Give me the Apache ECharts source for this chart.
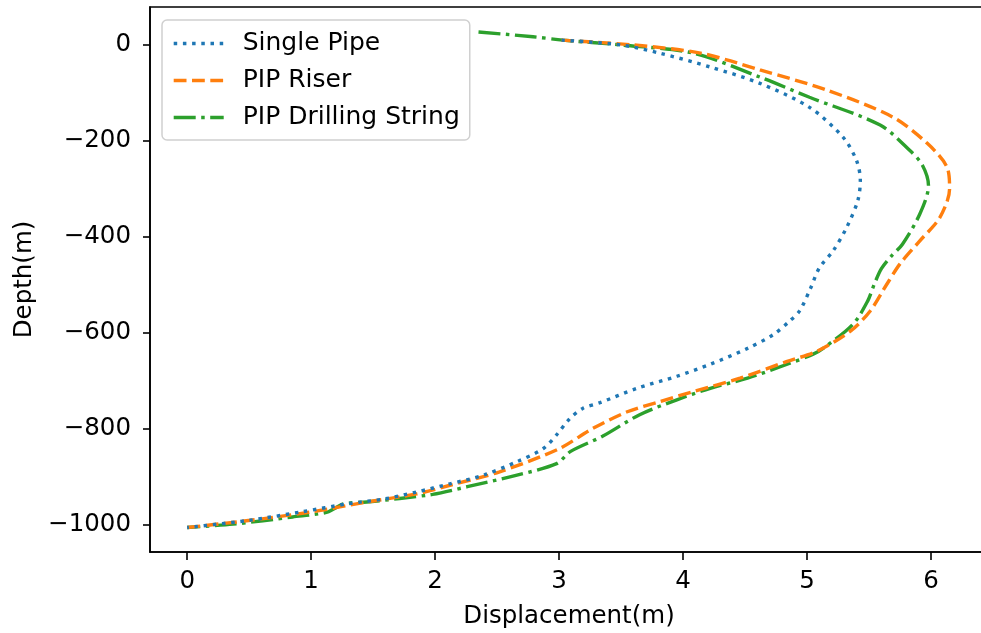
<!DOCTYPE html>
<html>
<head>
<meta charset="utf-8">
<script src="https://cdn.jsdelivr.net/npm/echarts@6/dist/echarts.min.js"></script>
<style>
html,body{margin:0;padding:0;background:#fff;overflow:hidden;}
#chart{width:981px;height:633px;}
</style>
</head>
<body>
<div id="chart"></div>
<script>
// Series names
const seriesNames = ['Single Pipe', 'PIP Riser', 'PIP Drilling String'];

// Single Pipe: displacement (m) and depth (m)
const singleX = [3.02, 3.5, 3.81, 4.22, 4.62, 5.02, 5.29, 5.40, 5.43, 5.41, 5.32, 5.21, 5.10, 5.03, 4.94, 4.86, 4.73, 4.52, 4.22, 3.95, 3.63, 3.33, 3.19, 3.08, 2.98, 2.87, 2.66, 2.39, 2.12, 1.85, 1.58, 1.31, 0.91, 0.50, 0];
const singleY = [10, 0, -17, -46, -80, -130, -192, -241, -282, -324, -380, -429, -464, -506, -554, -575, -603, -632, -665, -690, -715, -745, -757, -780, -812, -841, -868, -896, -914, -931, -946, -955, -973, -990, -1005];

// PIP Riser
const riserX = [3.02, 3.6, 4.14, 4.62, 5.16, 5.69, 5.97, 6.13, 6.15, 6.07, 5.91, 5.75, 5.64, 5.51, 5.35, 5.08, 4.84, 4.46, 4.08, 3.81, 3.55, 3.27, 3.0, 2.52, 2.12, 1.85, 1.45, 0.99, 0.51, 0];
const riserY = [10, 0, -17, -52, -94, -150, -205, -255, -300, -360, -408, -456, -500, -554, -596, -638, -659, -694, -722, -743, -764, -799, -841, -889, -917, -935, -952, -973, -990, -1005];

// PIP Drilling String
const drillX = [2.35, 2.79, 3.03, 3.5, 4.08, 4.62, 5.02, 5.59, 5.83, 5.93, 5.98, 5.91, 5.77, 5.68, 5.60, 5.54, 5.49, 5.37, 5.13, 5.05, 4.84, 4.52, 4.22, 3.95, 3.65, 3.35, 3.09, 2.98, 2.66, 2.26, 1.98, 1.45, 1.26, 1.13, 0.85, 0.37, 0];
const drillY = [27, 17, 10, 0, -17, -67, -109, -167, -220, -250, -293, -352, -415, -440, -466, -500, -533, -582, -632, -644, -665, -694, -715, -739, -770, -815, -847, -872, -896, -920, -936, -952, -956, -973, -983, -998, -1005];

// Tick labels
const xTicks = [0, 1, 2, 3, 4, 5, 6];
const yTicks = [-1000, -800, -600, -400, -200, 0];

const colors = ['#1f77b4', '#ff7f0e', '#2ca02c'];
const dashes = [[3.5, 5.7], [12.8, 5.5], [22, 5.5, 3.5, 5.5]];
const xs = [singleX, riserX, drillX];
const ys = [singleY, riserY, drillY];

const FONT = 'DejaVu Sans';
const FS = 24.5;
const fmt = v => (v < 0 ? '\u2212' + Math.abs(v) : String(v));

const chart = echarts.init(document.getElementById('chart'), null, {renderer: 'canvas'});
chart.setOption({
  animation: false,
  backgroundColor: '#fff',
  grid: {left: 150, top: 7, width: 838, height: 545, containLabel: false, outerBoundsMode: 'none',
         show: true, borderColor: '#000', borderWidth: 1.6, backgroundColor: 'transparent'},
  legend: {
    orient: 'vertical', left: 162, top: 20,
    padding: [11, 10, 10, 10],
    itemWidth: 50, itemHeight: 14, itemGap: 12,
    borderColor: '#d0d0d0', borderWidth: 1.5, borderRadius: 5,
    backgroundColor: 'rgba(255,255,255,0.8)',
    itemStyle: {opacity: 0},
    lineStyle: {width: 3.4},
    textStyle: {fontFamily: FONT, fontSize: 25, color: '#000', lineHeight: 24, padding: [0, 0, 0, 14]},
    data: seriesNames
  },
  xAxis: {
    type: 'value', min: -0.3, max: 6.46,
    name: 'Displacement(m)', nameLocation: 'middle', nameGap: 52,
    nameTextStyle: {fontFamily: FONT, fontSize: FS, color: '#000'},
    splitLine: {show: false},
    axisLine: {onZero: false, lineStyle: {color: '#000', width: 1.6}},
    axisTick: {show: true, length: 8, lineStyle: {color: '#000', width: 1.6}, customValues: xTicks},
    axisLabel: {fontFamily: FONT, fontSize: FS, color: '#000', margin: 17, customValues: xTicks, formatter: fmt}
  },
  yAxis: {
    type: 'value', min: -1056, max: 79,
    name: 'Depth(m)', nameLocation: 'middle', nameGap: 113, nameRotate: 90,
    nameTextStyle: {fontFamily: FONT, fontSize: FS, color: '#000'},
    splitLine: {show: false},
    axisLine: {onZero: false, lineStyle: {color: '#000', width: 1.6}},
    axisTick: {show: true, length: 7, lineStyle: {color: '#000', width: 1.6}, customValues: yTicks},
    axisLabel: {fontFamily: FONT, fontSize: FS, color: '#000', margin: 19, padding: [3, 0, 0, 0], customValues: yTicks, formatter: fmt}
  },
  series: seriesNames.map((name, i) => ({
    name: name,
    type: 'line',
    data: xs[i].map((x, j) => [x, ys[i][j]]),
    symbol: 'none',
    smooth: 0.3,
    clip: true,
    lineStyle: {color: colors[i], width: 3.4, type: dashes[i], cap: 'butt'},
    itemStyle: {color: colors[i]},
    z: 3 - i
  }))
});
</script>
</body>
</html>
